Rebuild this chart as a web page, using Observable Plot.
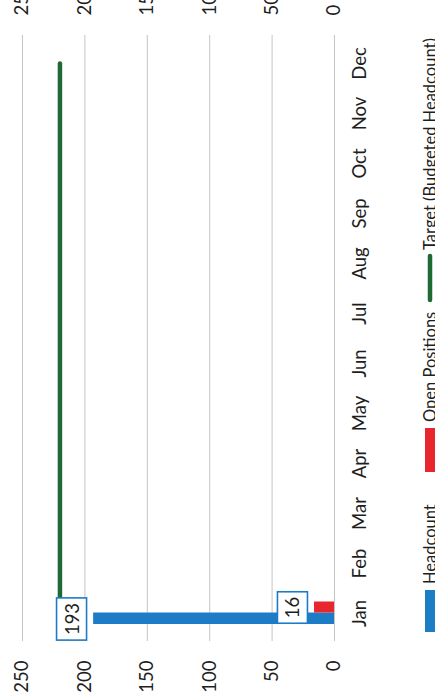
<!DOCTYPE html>
<html>
<head>
<meta charset="utf-8">
<script src="https://cdn.jsdelivr.net/npm/d3@7"></script>
<script src="https://cdn.jsdelivr.net/npm/@observablehq/plot@0.6"></script>
<style>
  html, body { margin: 0; padding: 0; background: #fff; }
  svg { display: block; }
</style>
</head>
<body>
<div id="chart"></div>
<script>
const months = ["Jan", "Feb", "Mar", "Apr", "May", "Jun", "Jul", "Aug", "Sep", "Oct", "Nov", "Dec"];
const headcount = [193, null, null, null, null, null, null, null, null, null, null, null];
const openPositions = [16, null, null, null, null, null, null, null, null, null, null, null];
const target = [220, 220, 220, 220, 220, 220, 220, 220, 220, 220, 220, 220];
const valueTicks = [0, 50, 100, 150, 200, 250];
const seriesNames = ["Headcount", "Open Positions", "Target (Budgeted Headcount)"];

const BLUE = "#1c7cc5", RED = "#e8262e", GREEN = "#1f6a34";

const rows = months.map((m, i) => ({month: m, headcount: headcount[i], open: openPositions[i], target: target[i]}));
const hc = rows.filter(d => d.headcount != null);
const op = rows.filter(d => d.open != null);

const FONT = "Lato, 'Open Sans', sans-serif";
const FS = 18.5;
const LEGEND_FS = 16.5;

const svg = Plot.plot({
  width: 435,
  height: 697,
  marginTop: 35,
  marginBottom: 56,
  marginLeft: 22,
  marginRight: 101,
  style: {fontFamily: FONT, fontSize: FS + "px", color: "#1e1e1e", background: "#fff"},
  x: {domain: [0, 250], reverse: true, axis: null},
  y: {domain: months.slice().reverse(), padding: 0, axis: null},
  marks: [
    Plot.ruleX(valueTicks, {stroke: "#c4c4c4", strokeWidth: 1}),
    Plot.axisX(valueTicks, {anchor: "bottom", tickSize: 0, tickRotate: -90, tickPadding: 19, textAnchor: "end", lineAnchor: "middle", label: null}),
    Plot.axisX(valueTicks, {anchor: "top", tickSize: 0, tickRotate: -90, tickPadding: 20, textAnchor: "start", lineAnchor: "middle", label: null}),
    Plot.axisY(months, {anchor: "right", tickSize: 0, tickRotate: -90, tickPadding: 18, textAnchor: "middle", lineAnchor: "top", label: null}),
    Plot.barX(hc, {x: "headcount", y: "month", fill: BLUE, insetTop: 24.5, insetBottom: 14}),
    Plot.barX(op, {x: "open", y: "month", fill: RED, insetTop: 13.5, insetBottom: 25.5}),
    Plot.lineX(rows, {x: "target", y: "month", stroke: GREEN, strokeWidth: 4.5, strokeLinecap: "round"}),
    Plot.text(hc, {x: "headcount", y: "month", text: "headcount", rotate: -90, dx: -21, dy: 5.5, textAnchor: "middle", lineAnchor: "middle", fill: "#1e1e1e"}),
    Plot.text(op, {x: "open", y: "month", text: "open", rotate: -90, dx: -21, dy: -6, textAnchor: "middle", lineAnchor: "middle", fill: "#1e1e1e"})
  ]
});

document.getElementById("chart").appendChild(svg);

// boxes behind data labels
d3.select(svg).selectAll("g[aria-label='text'] text").each(function () {
  const b = this.getBBox();
  const padL = 5, padH = 4;
  d3.select(this.parentNode).insert("rect", () => this)
    .attr("transform", this.getAttribute("transform"))
    .attr("x", b.x - padL).attr("y", b.y - padH)
    .attr("width", b.width + 2 * padL).attr("height", b.height + 2 * padH)
    .attr("fill", "#fff").attr("stroke", BLUE).attr("stroke-width", 1.6);
});

// legend (rotated, along the right edge)
const lg = d3.select(svg).append("g").attr("font-family", FONT).attr("font-size", LEGEND_FS).attr("fill", "#1e1e1e");
const legendItems = [
  {name: seriesNames[0], kind: "rect", color: BLUE, s0: 590, s1: 632, t: 584},
  {name: seriesNames[1], kind: "rect", color: RED, s0: 428, s1: 472, t: 422},
  {name: seriesNames[2], kind: "line", color: GREEN, s0: 256, s1: 300, t: 250}
];
legendItems.forEach(it => {
  if (it.kind === "rect") {
    lg.append("rect").attr("x", 425).attr("y", it.s0).attr("width", 12).attr("height", it.s1 - it.s0).attr("fill", it.color);
  } else {
    lg.append("line").attr("x1", 430).attr("x2", 430).attr("y1", it.s0).attr("y2", it.s1)
      .attr("stroke", it.color).attr("stroke-width", 4.5).attr("stroke-linecap", "round");
  }
  lg.append("text").attr("transform", `translate(436,${it.t}) rotate(-90)`).attr("text-anchor", "start").text(it.name);
});
</script>
</body>
</html>
